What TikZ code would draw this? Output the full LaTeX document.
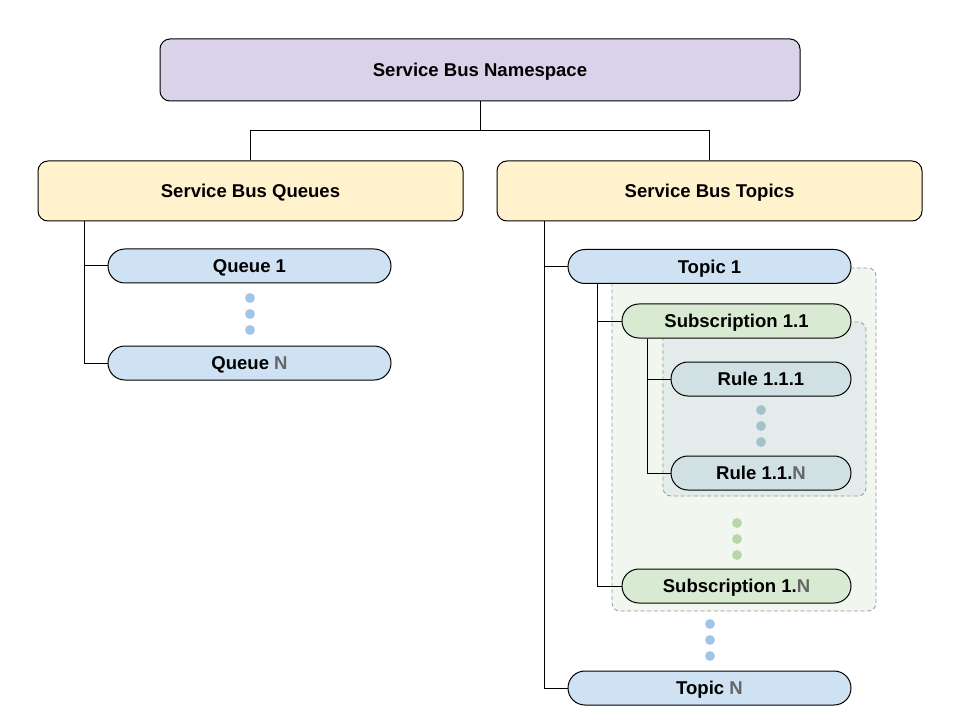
\documentclass[tikz,border=0pt]{standalone}
\usepackage{fontspec}
\setmainfont{Liberation Sans}
\definecolor{nsfill}{HTML}{D9D2E9}
\definecolor{grpfill}{HTML}{FFF2CC}
\definecolor{bluefill}{HTML}{CFE2F3}
\definecolor{greenfill}{HTML}{D9EAD3}
\definecolor{cyanfill}{HTML}{D0E0E3}
\definecolor{bluedot}{HTML}{9FC5E8}
\definecolor{greendot}{HTML}{B6D7A8}
\definecolor{cyandot}{HTML}{A2C4C9}
\definecolor{outerfill}{HTML}{F1F6EF}
\definecolor{innerfill}{HTML}{E3ECEA}
\definecolor{dashgray}{HTML}{999999}
\definecolor{ngray}{HTML}{666666}
\begin{document}
\begin{tikzpicture}[x=0.75pt,y=-0.75pt,
  every node/.style={font=\fontsize{13.9}{16}\selectfont\bfseries, text=black, text height=10pt, text depth=0pt},
  bigbox/.style={draw=black, line width=0.75pt, rounded corners=7.5pt, inner sep=0pt, minimum height=46.5pt},
  pill/.style={draw=black, line width=0.75pt, rounded corners=12.7pt, inner sep=0pt, minimum height=25.5pt},
  qpill/.style={pill, fill=bluefill, minimum width=212.25pt},
  spill/.style={pill, fill=greenfill, minimum width=171.75pt},
  rpill/.style={pill, fill=cyanfill, minimum width=135pt},
  grp/.style={draw=dashgray, line width=0.6pt, dash pattern=on 3pt off 2pt, rounded corners=6pt},
  conn/.style={draw=black, line width=0.75pt}
]
\useasboundingbox (0,0) rectangle (960,720);
\fill[white] (0,0) rectangle (960,720);

% containers
\draw[grp, fill=outerfill] (612,268) rectangle (876,611);
\draw[grp, fill=innerfill] (663,322) rectangle (866,496);

% nodes
\node[bigbox, fill=nsfill, minimum width=480pt] (ns) at (480,70) {Service Bus Namespace};
\node[bigbox, fill=grpfill, minimum width=318.75pt, minimum height=45pt] (queues) at (250.5,191) {Service Bus Queues};
\node[bigbox, fill=grpfill, minimum width=318.75pt, minimum height=45pt] (topics) at (709.5,191) {Service Bus Topics};

\node[qpill] (q1) at (249.5,266) {Queue 1};
\node[qpill] (qN) at (249.5,363) {Queue \textcolor{ngray}{N}};

\node[qpill] (t1) at (709.5,266.5) {Topic 1};
\node[qpill] (tN) at (709.5,688) {Topic \textcolor{ngray}{N}};

\node[spill] (s11) at (736.5,321) {Subscription 1.1};
\node[spill] (s1N) at (736.5,586) {Subscription 1.\textcolor{ngray}{N}};

\node[rpill] (r1) at (761,379) {Rule 1.1.1};
\node[rpill] (rN) at (761,473) {Rule 1.1.\textcolor{ngray}{N}};

% dots
\foreach \y in {298,314,330} \fill[bluedot] (250,\y) circle (3.7pt);
\foreach \y in {624,640,656} \fill[bluedot] (710,\y) circle (3.7pt);
\foreach \y in {523,539,555} \fill[greendot] (737,\y) circle (3.7pt);
\foreach \y in {410,426,442} \fill[cyandot] (761,\y) circle (3.7pt);

% connector x positions
\coordinate (qx) at (84,0);
\coordinate (tx) at (544,0);
\coordinate (t1x) at (597,0);
\coordinate (s1x) at (647,0);

% connectors
\draw[conn] (ns.south) -- ++(0,29) -| (queues.north);
\draw[conn] (ns.south) -- ++(0,29) -| (topics.north);
\draw[conn] (queues.south -| qx) |- (q1.west);
\draw[conn] (queues.south -| qx) |- (qN.west);
\draw[conn] (topics.south -| tx) |- (t1.west);
\draw[conn] (topics.south -| tx) |- (tN.west);
\draw[conn] (t1.south -| t1x) |- (s11.west);
\draw[conn] (t1.south -| t1x) |- (s1N.west);
\draw[conn] (s11.south -| s1x) |- (r1.west);
\draw[conn] (s11.south -| s1x) |- (rN.west);
\end{tikzpicture}
\end{document}
